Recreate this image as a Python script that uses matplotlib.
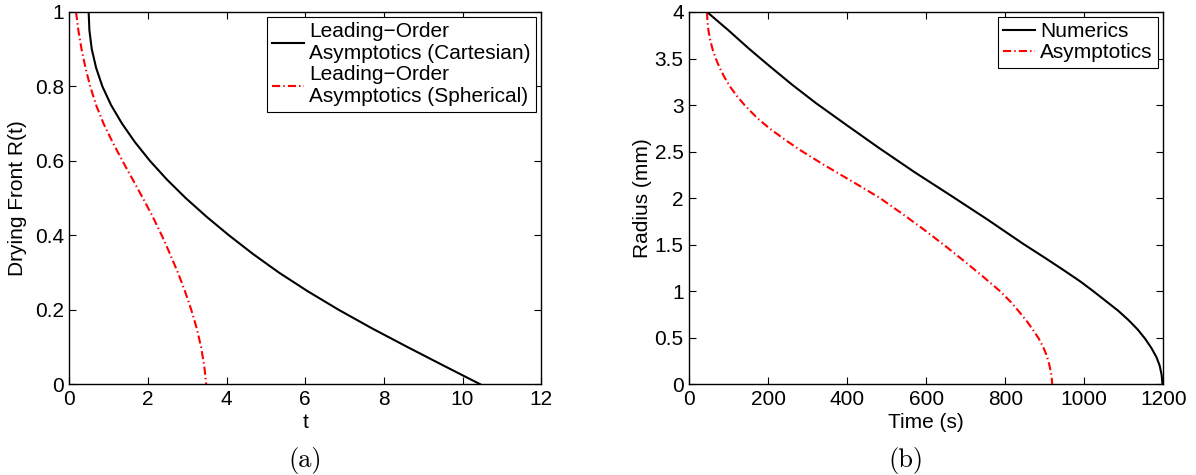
import numpy as np
import matplotlib
matplotlib.use("Agg")
import matplotlib.pyplot as plt
from matplotlib.ticker import FormatStrFormatter

plt.rcParams['font.family'] = ['Liberation Sans', 'DejaVu Sans']

# ===== panel (a): leading-order asymptotics, R(t) =====
a_R = [1.00, 0.95, 0.90, 0.85, 0.80, 0.75, 0.70, 0.65, 0.60, 0.55, 0.50, 0.45,
       0.40, 0.35, 0.30, 0.25, 0.20, 0.15, 0.10, 0.05, 0.00]
a_cart_t = [0.49, 0.51, 0.57, 0.68, 0.84, 1.06, 1.34, 1.67, 2.05, 2.48, 2.96, 3.49,
            4.06, 4.67, 5.33, 6.06, 6.85, 7.70, 8.60, 9.52, 10.45]
a_sph_t = [0.17, 0.23, 0.31, 0.41, 0.53, 0.68, 0.87, 1.10, 1.35, 1.61, 1.87, 2.12,
           2.35, 2.56, 2.76, 2.94, 3.10, 3.24, 3.35, 3.43, 3.48]

# ===== panel (b): radius vs time =====
b_num_t = [45, 100, 150, 200, 260, 321, 400, 480, 570, 665, 755, 845, 900, 950, 990,
           1023, 1056, 1086, 1112, 1135, 1154, 1170, 1183, 1191, 1196, 1198]
b_num_R = [4.00, 3.80, 3.61, 3.43, 3.22, 3.02, 2.78, 2.54, 2.28, 2.02, 1.77, 1.51, 1.36,
           1.22, 1.105, 1.00, 0.89, 0.79, 0.69, 0.59, 0.49, 0.39, 0.29, 0.20, 0.10, 0.00]
b_asy_t = [45, 46, 48.6, 53, 59, 67, 77, 89, 103, 120, 140, 172, 206, 245, 283, 340,
           400, 440, 483, 540, 601, 650, 694, 740, 787, 815, 837, 856, 871, 885, 896,
           905, 911, 916, 918, 919]
b_asy_R = [4.00, 3.90, 3.80, 3.70, 3.60, 3.50, 3.40, 3.30, 3.20, 3.10, 3.00, 2.86, 2.74,
           2.62, 2.51, 2.36, 2.21, 2.11, 2.00, 1.83, 1.64, 1.48, 1.33, 1.17, 1.00, 0.88,
           0.77, 0.67, 0.58, 0.49, 0.40, 0.31, 0.22, 0.12, 0.05, 0.00]

a_labels = ["Leading\u2212Order\nAsymptotics (Cartesian)",
            "Leading\u2212Order\nAsymptotics (Spherical)"]
b_labels = ["Numerics", "Asymptotics"]

dashdot = (0, (3.9, 1.5, 0.7, 1.5))
FS = 15

fig = plt.figure(figsize=(11.96, 4.75), dpi=100)
ax1 = fig.add_axes([0.058, 0.191, 0.3945, 0.7838])
ax2 = fig.add_axes([0.5763, 0.191, 0.3963, 0.7838])

ax1.plot(a_cart_t, a_R, color="black", lw=1.5, label=a_labels[0])
ax1.plot(a_sph_t, a_R, color="red", lw=1.5, linestyle=dashdot, label=a_labels[1])
ax1.set_xlim(0, 12)
ax1.set_ylim(0, 1)
ax1.set_xticks(np.arange(0, 13, 2))
ax1.set_yticks(np.arange(0, 1.01, 0.2))
ax1.set_xlabel("t", fontsize=FS)
ax1.set_ylabel("Drying Front R(t)", fontsize=FS)

ax2.plot(b_num_t, b_num_R, color="black", lw=1.5, label=b_labels[0])
ax2.plot(b_asy_t, b_asy_R, color="red", lw=1.5, linestyle=dashdot, label=b_labels[1])
ax2.set_xlim(0, 1200)
ax2.set_ylim(0, 4)
ax2.set_xticks(np.arange(0, 1201, 200))
ax2.set_yticks(np.arange(0, 4.01, 0.5))
ax2.set_xlabel("Time (s)", fontsize=FS)
ax2.set_ylabel("Radius (mm)", fontsize=FS)

for ax in (ax1, ax2):
    ax.tick_params(direction="in", top=True, right=True, length=5, width=0.8,
                   labelsize=FS, pad=4)
    ax.yaxis.set_major_formatter(FormatStrFormatter('%g'))
    ax.xaxis.set_major_formatter(FormatStrFormatter('%g'))
    for s in ax.spines.values():
        s.set_linewidth(1.0)
    ax.xaxis.set_label_coords(0.5, -0.077)
    leg = ax.legend(loc="upper right", fontsize=FS, fancybox=False, framealpha=1,
                    edgecolor="black", borderaxespad=0.25, borderpad=0.25,
                    handlelength=1.55, handletextpad=0.25, labelspacing=0.1)
    leg.get_frame().set_linewidth(0.8)

ax1.yaxis.set_label_coords(-0.09, 0.5)
ax2.yaxis.set_label_coords(-0.079, 0.5)

fig.text(305 / 1196, 0.0175, "(a)", ha="center", va="baseline",
         family="cmr10", fontsize=19)
fig.text(906 / 1196, 0.0175, "(b)", ha="center", va="baseline",
         family="cmr10", fontsize=19)

plt.savefig("out.png", dpi=100)
print("out.png")
